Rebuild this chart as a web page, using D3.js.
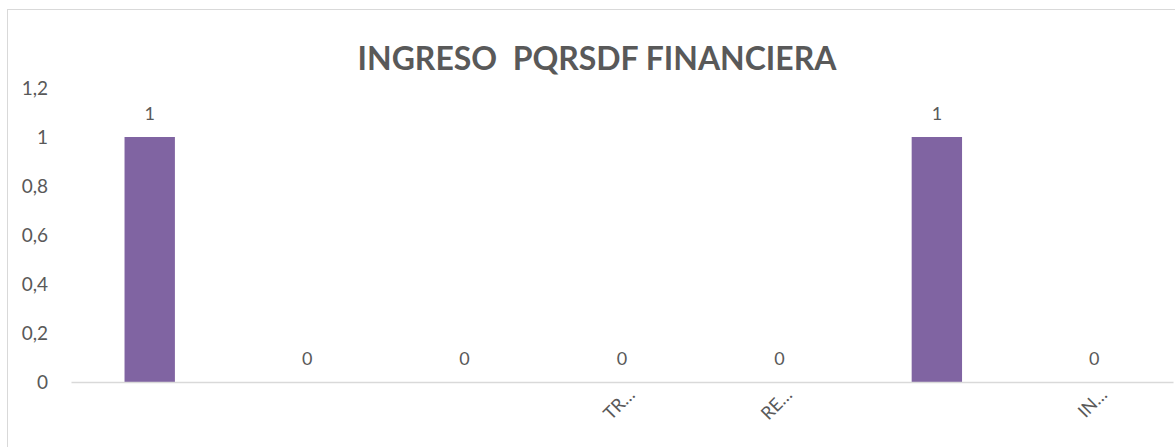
<!DOCTYPE html>
<html>
<head>
<meta charset="utf-8">
<script src="https://cdn.jsdelivr.net/npm/d3@7"></script>
<style>
  body { margin: 0; background: #fff; }
  text { font-family: Lato, "Noto Sans", sans-serif; fill: #595959; }
</style>
</head>
<body>
<div id="chart"></div>
<script>
// data
var categories = ["c1", "c2", "c3", "c4", "c5", "c6", "c7"];
var catLabels = ["", "", "", "TR…", "RE…", "", "IN…"];
var values = [1, 0, 0, 0, 0, 1, 0];
var yTicks = [0, 0.2, 0.4, 0.6, 0.8, 1, 1.2];
var title = "INGRESO  PQRSDF FINANCIERA";

var w = 1175, h = 447;
var mLeft = 71, mRight = 1173, mTop = 88, mBottom = 382;

var svg = d3.select("#chart").append("svg")
    .attr("width", w)
    .attr("height", h);

// chart border
svg.append("rect")
    .attr("x", 7.5).attr("y", 9.5)
    .attr("width", 1180).attr("height", 460)
    .attr("fill", "none")
    .attr("stroke", "#d9d9d9")
    .attr("stroke-width", 1);

var xScale = d3.scaleBand()
    .domain(categories)
    .range([mLeft, mRight])
    .paddingInner(0.68)
    .paddingOuter(0.34);

var yScale = d3.scaleLinear()
    .domain([0, 1.2])
    .range([mBottom, mTop]);

// title
var t = svg.append("text")
    .attr("x", 597)
    .attr("y", 70)
    .attr("text-anchor", "middle")
    .style("font-weight", "bold")
    .style("font-size", "28px")
    .style("white-space", "pre")
    .text(title);
var tw = t.node().getComputedTextLength();
t.style("font-size", (28 * 479 / tw) + "px");

// y axis (labels only)
var yAxis = d3.axisLeft(yScale)
    .tickValues(yTicks)
    .tickSize(0)
    .tickPadding(0)
    .tickFormat(function(d) { return d3.format("~g")(d).replace(".", ","); });

var gy = svg.append("g")
    .attr("transform", "translate(48,0)")
    .call(yAxis);
gy.select(".domain").remove();
gy.selectAll("text")
    .style("font-size", "19px")
    .style("fill", "#595959")
    .style("font-family", "Lato, 'Noto Sans', sans-serif");

// bars
svg.append("g")
    .selectAll("rect")
    .data(values)
    .enter()
    .append("rect")
    .attr("x", function(d, i) { return xScale(categories[i]); })
    .attr("y", function(d) { return yScale(d); })
    .attr("width", xScale.bandwidth())
    .attr("height", function(d) { return yScale(0) - yScale(d); })
    .style("fill", "#8064a2");

// x axis
var xAxis = d3.axisBottom(xScale)
    .tickSize(0)
    .tickFormat(function(d, i) { return catLabels[i]; });

var gx = svg.append("g")
    .attr("transform", "translate(0," + mBottom + ")")
    .call(xAxis);
gx.select(".domain")
    .attr("stroke", "#d9d9d9")
    .attr("stroke-width", 1.5);
gx.selectAll("text")
    .attr("text-anchor", "end")
    .attr("dy", null)
    .attr("y", 0)
    .attr("transform", "translate(14,14) rotate(-45)")
    .style("font-size", "18px")
    .style("fill", "#595959")
    .style("font-family", "Lato, 'Noto Sans', sans-serif");

// data labels
svg.append("g")
    .selectAll("text")
    .data(values)
    .enter()
    .append("text")
    .attr("x", function(d, i) { return xScale(categories[i]) + xScale.bandwidth() / 2; })
    .attr("y", function(d) { return yScale(d) - 17; })
    .attr("text-anchor", "middle")
    .style("font-size", "18px")
    .text(function(d) { return d; });
</script>
</body>
</html>
